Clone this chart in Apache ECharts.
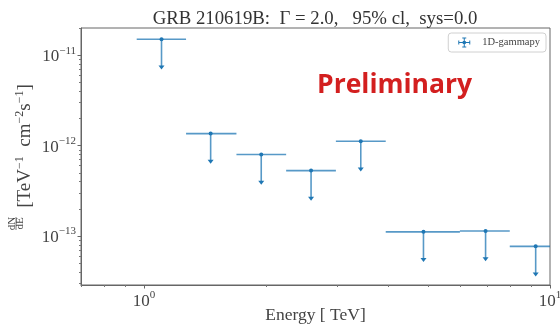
<!DOCTYPE html>
<html>
<head>
<meta charset="utf-8">
<script src="https://cdn.jsdelivr.net/npm/echarts@6/dist/echarts.min.js"></script>
<style>html,body{margin:0;padding:0;background:#fff}#c{width:560px;height:328px}</style>
</head>
<body>
<div id="c"></div>
<script>
// ---- data ----
const energy  = [1.105, 1.46, 1.945, 2.58, 3.42, 4.88, 6.94, 9.22];          // TeV, bin centres
const eLow    = [0.96, 1.27, 1.69, 2.24, 2.97, 3.94, 6.00, 7.96];             // TeV, bin low edges
const eHigh   = [1.27, 1.69, 2.24, 2.97, 3.94, 6.00, 7.96, 10.6];             // TeV, bin high edges
const upperLimit = [1.50e-11, 1.36e-12, 8.0e-13, 5.3e-13, 1.12e-12, 1.115e-13, 1.14e-13, 7.7e-14];
const xMajorTicks = [1, 10];
const xMinorTicks = [0.7, 0.8, 0.9, 2, 3, 4, 5, 6, 7, 8, 9];
const yMajorTicks = [1e-13, 1e-12, 1e-11];
const yMinorTicks = [3e-14,4e-14,5e-14,6e-14,7e-14,8e-14,9e-14,
                     2e-13,3e-13,4e-13,5e-13,6e-13,7e-13,8e-13,9e-13,
                     2e-12,3e-12,4e-12,5e-12,6e-12,7e-12,8e-12,9e-12,2e-11];
const seriesName = '1D-gammapy';
const titleText = 'GRB 210619B:  \u0393 = 2.0,   95% cl,  sys=0.0';

const SERIF = '"Liberation Serif", "DejaVu Serif", serif';
const BLUE = '#1f77b4';
const ARROW = 0.5; // upper-limit arrow reaches value*ARROW

function expLabel(v) {
  const e = Math.round(Math.log10(v));
  return '{b|10}{s|' + String(e).replace('-', '\u2212') + '}';
}
const tickRich = {
  b: {fontFamily: SERIF, fontSize: 17, color: '#444', lineHeight: 20, verticalAlign: 'bottom'},
  s: {fontFamily: SERIF, fontSize: 11, color: '#444', lineHeight: 12, verticalAlign: 'top'}
};

const data = energy.map((e, i) => [e, eLow[i], eHigh[i], upperLimit[i]]);

const chart = echarts.init(document.getElementById('c'), null, {renderer: 'canvas'});
chart.setOption({
  animation: false,
  title: {
    text: titleText, left: 310, top: 5, textAlign: 'center',
    textStyle: {fontFamily: SERIF, fontSize: 18.8, fontWeight: 'normal', color: '#333'}
  },
  grid: {left: 81, right: 10, top: 28, bottom: 43, show: true, borderColor: '#666', borderWidth: 1,
         containLabel: false, outerBoundsMode: 'none'},
  legend: {
    right: 14, top: 33, orient: 'vertical',
    borderColor: '#d0d0d0', borderWidth: 1, borderRadius: 3, padding: [4, 6, 4, 10],
    itemWidth: 12, itemHeight: 10, itemGap: 4,
    textStyle: {fontFamily: SERIF, fontSize: 10.5, color: '#444', padding: [0, 0, 0, 7]},
    data: [{name: seriesName, icon: 'path://M0,4.5h12v1h-12z M5.5,0h1v10h-1z M4,0h4v1h-4z M4,9h4v1h-4z M0,3h1v4h-1z M11,3h1v4h-1z M4.5,3.5h3v3h-3z', itemStyle: {color: BLUE}}]
  },
  xAxis: [{
    type: 'log', logBase: 10, min: 0.7, max: 10,
    name: 'Energy [ TeV]', nameLocation: 'middle', nameGap: 21, nameMoveOverlap: false,
    nameTextStyle: {fontFamily: SERIF, fontSize: 17.5, color: '#444', verticalAlign: 'top'},
    axisLine: {show: true, lineStyle: {color: '#666', width: 1}},
    axisTick: {show: true, length: 3.5, customValues: xMajorTicks, lineStyle: {color: '#666'}},
    axisLabel: {show: true, customValues: xMajorTicks, margin: 5, formatter: expLabel, rich: tickRich, hideOverlap: false},
    splitLine: {show: false}
  }, {
    type: 'log', logBase: 10, min: 0.7, max: 10, position: 'bottom',
    axisLine: {show: false},
    axisTick: {show: true, length: 2, customValues: xMinorTicks, lineStyle: {color: '#777'}},
    axisLabel: {show: false},
    splitLine: {show: false}
  }],
  yAxis: [{
    type: 'log', logBase: 10, min: 2.88e-14, max: 2.0e-11,
    axisLine: {show: true, lineStyle: {color: '#666', width: 1}},
    axisTick: {show: true, length: 3.5, customValues: yMajorTicks, lineStyle: {color: '#666'}},
    axisLabel: {show: true, customValues: yMajorTicks, margin: 5, formatter: expLabel, rich: tickRich},
    splitLine: {show: false}
  }, {
    type: 'log', logBase: 10, min: 2.88e-14, max: 2.0e-11, position: 'left',
    axisLine: {show: false},
    axisTick: {show: true, length: 2, customValues: yMinorTicks, lineStyle: {color: '#777'}},
    axisLabel: {show: false},
    splitLine: {show: false}
  }],
  series: [{
    name: seriesName, type: 'custom', clip: true,
    xAxisIndex: 0, yAxisIndex: 0,
    itemStyle: {color: BLUE},
    encode: {x: [0, 1, 2], y: 3},
    data: data,
    renderItem: function (params, api) {
      const x = api.value(0), lo = api.value(1), hi = api.value(2), y = api.value(3);
      const c = api.coord([x, y]);
      const l = api.coord([lo, y]);
      const r = api.coord([hi, y]);
      const b = api.coord([x, y * ARROW]);
      const cs = params.coordSys;
      const lineStyle = {stroke: BLUE, lineWidth: 1.6, opacity: 0.75};
      return {
        type: 'group',
        clipPath: {type: 'rect', shape: {x: cs.x, y: cs.y, width: cs.width, height: cs.height}},
        children: [
          {type: 'line', shape: {x1: l[0], y1: c[1], x2: r[0], y2: c[1]}, style: lineStyle},
          {type: 'line', shape: {x1: c[0], y1: c[1], x2: c[0], y2: b[1]}, style: lineStyle},
          {type: 'polygon', shape: {points: [[c[0] - 3, b[1] - 1], [c[0] + 3, b[1] - 1], [c[0], b[1] + 3]]}, style: {fill: BLUE}},
          {type: 'circle', shape: {cx: c[0], cy: c[1], r: 2}, style: {fill: BLUE}}
        ]
      };
    }
  }],
  graphic: [
    {
      type: 'text', x: 317, y: 72,
      style: {text: 'Preliminary', fontFamily: '"Open Sans", Lato, sans-serif', fontWeight: 'bold', fontSize: 26.5, fill: '#d31f1f'}
    },
    {
      type: 'text', x: 25, y: 146, rotation: Math.PI / 2,
      style: {
        text: '[TeV{s|\u22121}  cm{s|\u22122}s{s|\u22121}]',
        align: 'center', verticalAlign: 'middle',
        fontFamily: SERIF, fontSize: 19, fill: '#444',
        rich: {s: {fontFamily: SERIF, fontSize: 12, fill: '#444', lineHeight: 12, verticalAlign: 'top'}},
        lineHeight: 22
      }
    },
    {
      type: 'text', x: 12.5, y: 223.5, rotation: Math.PI / 2,
      style: {text: 'dN', align: 'center', verticalAlign: 'middle', fontFamily: SERIF, fontSize: 11, fill: '#444'}
    },
    {
      type: 'line', shape: {x1: 16, y1: 217, x2: 16, y2: 230}, style: {stroke: '#444', lineWidth: 0.7}
    },
    {
      type: 'text', x: 20, y: 223.5, rotation: Math.PI / 2,
      style: {text: 'dE', align: 'center', verticalAlign: 'middle', fontFamily: SERIF, fontSize: 11, fill: '#444'}
    }
  ]
});
</script>
</body>
</html>
